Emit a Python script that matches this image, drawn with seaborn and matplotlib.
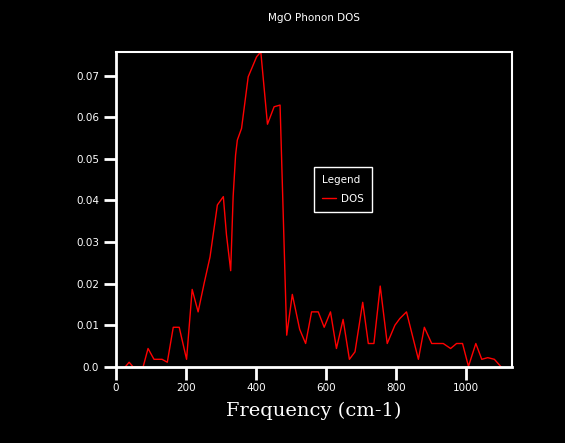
import matplotlib
matplotlib.use("Agg")
import matplotlib.pyplot as plt
import seaborn as sns
import pandas as pd

# phonon DOS
freq = [27, 38, 49, 78, 92, 109, 132, 147, 164, 181, 202, 218, 235, 252, 269,
        290, 307, 316, 328, 335, 342, 347, 359, 378, 402, 414, 433, 452, 469,
        488, 504, 525, 542, 559, 578, 595, 613, 630, 649, 667, 683, 705, 721,
        737, 755, 775, 797, 811, 830, 864, 881, 902, 935, 956, 973, 990, 1007,
        1028, 1045, 1062, 1081, 1100]
dos = [0.0, 0.0011, 0.0, 0.0, 0.0044, 0.0018, 0.0018, 0.0011, 0.0095, 0.0095,
       0.0018, 0.0186, 0.0132, 0.0200, 0.0264, 0.0389, 0.0409, 0.0317, 0.0231,
       0.0409, 0.0509, 0.0545, 0.0573, 0.0697, 0.0745, 0.0757, 0.0583, 0.0625,
       0.0629, 0.0076, 0.0174, 0.0090, 0.0056, 0.0132, 0.0132, 0.0095, 0.0132,
       0.0044, 0.0114, 0.0018, 0.0036, 0.0155, 0.0056, 0.0056, 0.0194, 0.0056,
       0.0100, 0.0116, 0.0132, 0.0018, 0.0095, 0.0056, 0.0056, 0.0044, 0.0056,
       0.0056, 0.0001, 0.0056, 0.0018, 0.0022, 0.0018, 0.0]

xticks = [0, 200, 400, 600, 800, 1000]
yticks = [0.0, 0.01, 0.02, 0.03, 0.04, 0.05, 0.06, 0.07]
ytick_labels = ["0.0", "0.01", "0.02", "0.03", "0.04", "0.05", "0.06", "0.07"]

df = pd.DataFrame({"Frequency": freq, "DOS": dos})

sns.set_style("dark", {"axes.facecolor": "black", "figure.facecolor": "black",
                       "axes.edgecolor": "white", "text.color": "white",
                       "xtick.color": "white", "ytick.color": "white",
                       "xtick.bottom": True, "ytick.left": True})
plt.rcParams['font.family'] = ['DejaVu Sans']

fig = plt.figure(figsize=(5.65, 4.43), dpi=100)
ax = fig.add_axes([0.205, 0.172, 0.701, 0.711])

sns.lineplot(data=df, x="Frequency", y="DOS", color="red", linewidth=1.0,
             label="DOS", ax=ax)

ax.set_xlim(0, 1131)
ax.set_ylim(0, 0.0757)
ax.set_xticks(xticks)
ax.set_yticks(yticks)
ax.set_yticklabels(ytick_labels)
ax.tick_params(axis="both", direction="out", length=9, width=2, pad=3,
               labelsize=7.5, colors="white")
for sp in ax.spines.values():
    sp.set_color("white")
    sp.set_linewidth(1.5)
ax.spines["left"].set_linewidth(2)
ax.spines["bottom"].set_linewidth(2)

ax.set_xlabel("Frequency (cm-1)", family="DejaVu Serif", fontsize=14,
              color="white", labelpad=6)
ax.set_ylabel("")
fig.text(0.555, 0.959, "MgO Phonon DOS", ha="center", va="center",
         fontsize=7.5, color="white")

leg = ax.legend(title="Legend", loc="upper left", bbox_to_anchor=(0.5, 0.634),
                borderaxespad=0, fontsize=7.5, title_fontsize=7.5,
                frameon=True, fancybox=False, facecolor="black",
                edgecolor="white", framealpha=1, handlelength=1.3,
                handletextpad=0.5, borderpad=0.8, labelspacing=0.8)
leg._legend_box.align = "left"
leg.get_frame().set_linewidth(1)
for t in leg.get_texts():
    t.set_color("white")
leg.get_title().set_color("white")

fig.savefig("out.png", dpi=100, facecolor="black")
